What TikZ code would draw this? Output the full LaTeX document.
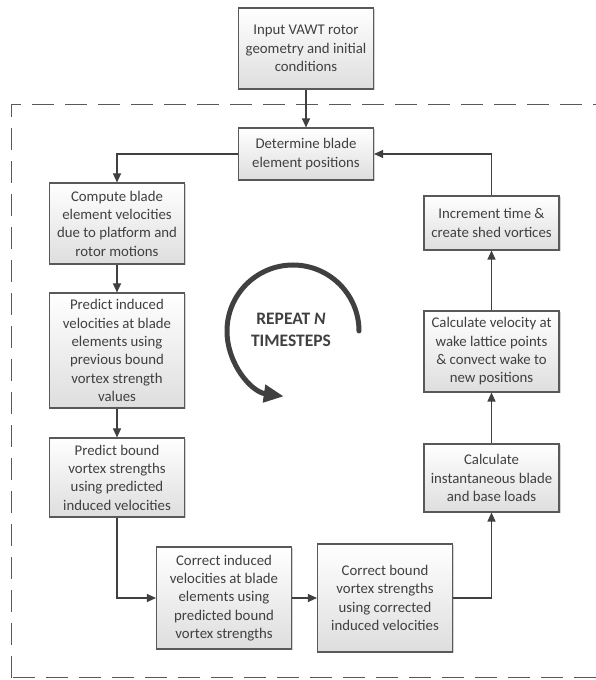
\documentclass[tikz,border=0pt]{standalone}
\usepackage{fontspec}
\setmainfont{Carlito}
\usetikzlibrary{arrows.meta, shadows}
\definecolor{ink}{HTML}{404040}
\definecolor{edge}{HTML}{595959}

\begin{document}
\begin{tikzpicture}[x = 1pt, y = 1pt,
	stage/.style = {draw = edge, line width = 1.1pt, top color = white, bottom color = black!13, drop shadow = {shadow xshift = 1.5pt, shadow yshift = -1.5pt, opacity = 0.35}, minimum width = 135pt, inner xsep = 1pt, align = center, text = ink, font = \fontsize{14.8}{18.3}\selectfont},
	flow/.style = {draw = ink, line width = 1.1pt, -{Triangle[length = 9pt, width = 8pt]}}]
	\useasboundingbox (0, 0) rectangle (595, 680);
	\draw[edge, line width = 1pt, dash pattern = on 22pt off 11pt] (11, 2) rectangle (605, 575);

	\node[stage, minimum height = 81pt] (input) at (306, 631.5){Input VAWT rotor\\geometry and initial\\conditions};
	\node[stage, minimum height = 52pt] (place) at (306, 526){Determine blade\\element positions};
	\node[stage, minimum height = 81pt] (bladevel) at (117, 456.5){Compute blade\\element velocities\\due to platform and\\rotor motions};
	\node[stage, minimum height = 115pt] (predind) at (117, 329.5){Predict induced\\velocities at blade\\elements using\\previous bound\\vortex strength\\values};
	\node[stage, minimum height = 79pt] (predbound) at (117, 202.5){Predict bound\\vortex strengths\\using predicted\\induced velocities};
	\node[stage, minimum height = 102pt] (corrind) at (224, 82){Correct induced\\velocities at blade\\elements using\\predicted bound\\vortex strengths};
	\node[stage, minimum height = 108pt] (corrbound) at (385, 82){Correct bound\\vortex strengths\\using corrected\\induced velocities};
	\node[stage, minimum height = 68pt] (loads) at (491.5, 202){Calculate\\instantaneous blade\\and base loads};
	\node[stage, minimum height = 81pt] (wake) at (491.5, 328.5){Calculate velocity at\\wake lattice points\\\& convect wake to\\new positions};
	\node[stage, minimum height = 54pt] (shed) at (491.5, 457){Increment time \&\\create shed vortices};

	\draw[flow] (input) -- (place);
	\draw[flow] (place) -| (bladevel);
	\draw[flow] (bladevel) -- (predind);
	\draw[flow] (predind) -- (predbound);
	\draw[flow] (predbound) |- (corrind);
	\draw[flow] (corrind) -- (corrbound);
	\draw[flow] (corrbound) -| (loads);
	\draw[flow] (loads) -- (wake);
	\draw[flow] (wake) -- (shed);
	\draw[flow] (shed) |- (place);

	% timestep loop
	\draw[ink, line width = 5pt, line cap = round, -{Triangle[length = 20pt, width = 17pt]}] (359, 349) arc[start angle = 0, end angle = 262, radius = 66];
	\node[text = ink, font = \fontsize{17.5}{22}\selectfont\bfseries, align = center] (repeat) at (291, 350){REPEAT \textit{N}\\TIMESTEPS};
\end{tikzpicture}
\end{document}
